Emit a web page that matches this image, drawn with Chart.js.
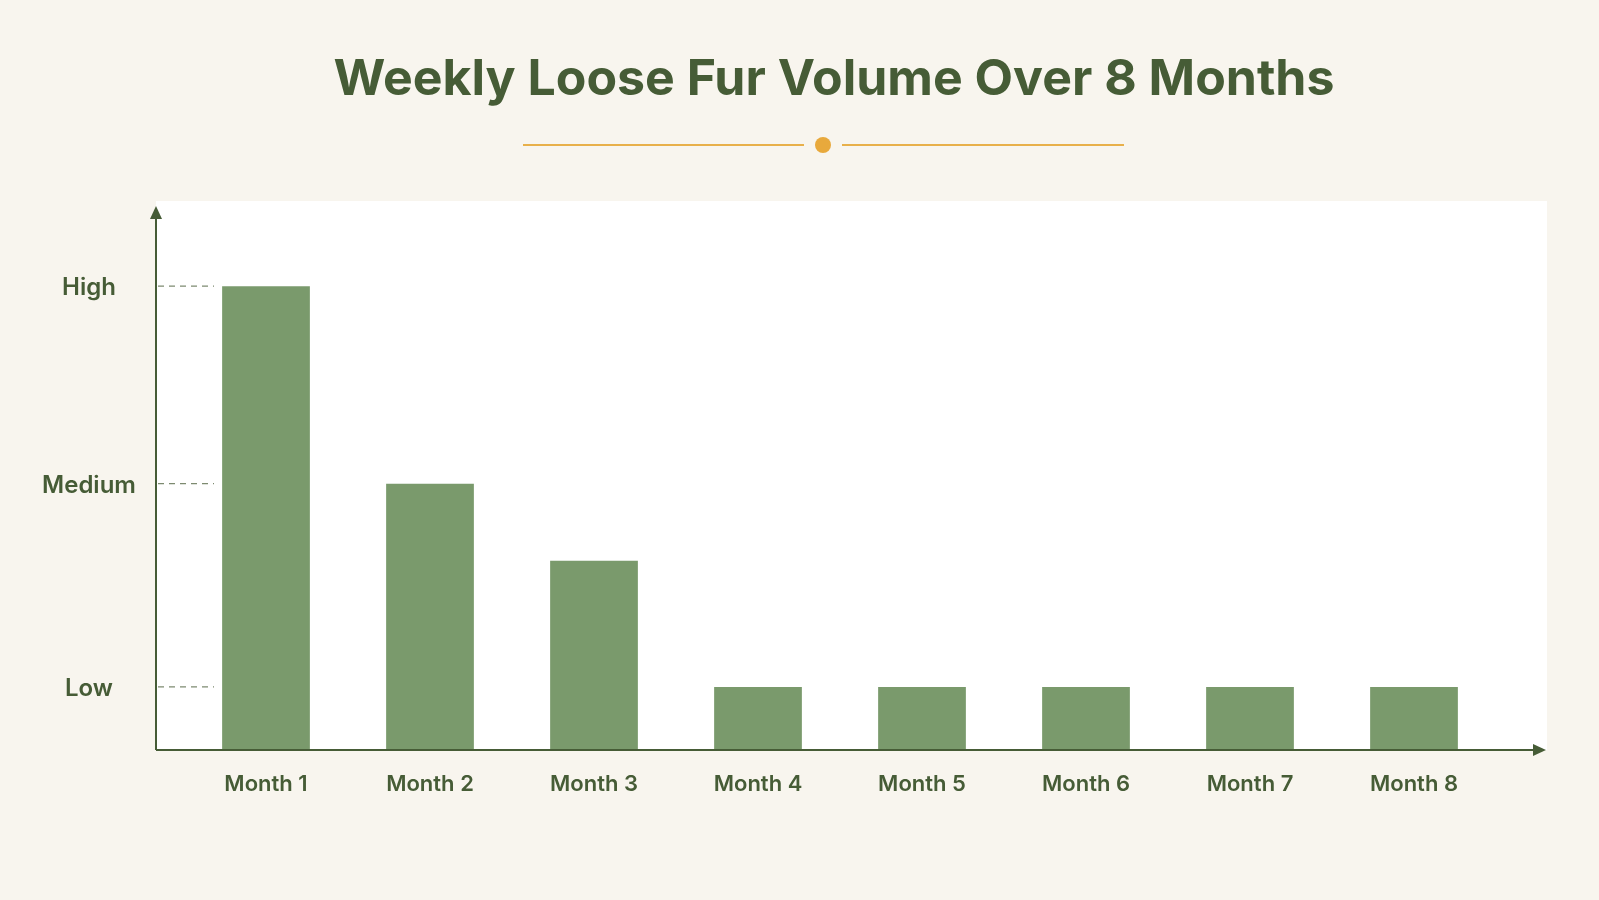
<!DOCTYPE html>
<html>
<head>
<meta charset="utf-8">
<script src="https://cdn.jsdelivr.net/npm/chart.js@4"></script>
<style>
  html, body { margin: 0; padding: 0; background: #f8f5ee; }
  #wrap { width: 1599px; height: 900px; position: relative; }
</style>
</head>
<body>
<div id="wrap"><canvas id="furChart" width="1599" height="900"></canvas></div>
<script>
// data
const months = ['Month 1', 'Month 2', 'Month 3', 'Month 4', 'Month 5', 'Month 6', 'Month 7', 'Month 8'];
const furVolume = [7.35, 4.22, 3.0, 1, 1, 1, 1, 1];
const levelValues = [1, 4.22, 7.35];
const levelLabels = ['Low', 'Medium', 'High'];

const GREEN_DARK = '#465c36';
const BAR_GREEN = '#7a9a6c';
const FONT = 'Inter, Lato, "Noto Sans", sans-serif';

// draws the frame, arrows, labels and title around the chart area
const decor = {
  id: 'decor',
  beforeDatasetsDraw(chart) {
    const { ctx, chartArea: a, scales } = chart;
    const y = scales.y;
    ctx.save();
    ctx.fillStyle = '#ffffff';
    ctx.fillRect(156, a.top, 1547 - 156, a.bottom - a.top);

    // dashed level lines + labels
    ctx.strokeStyle = '#7d8a70';
    ctx.lineWidth = 1.3;
    ctx.setLineDash([6, 5]);
    ctx.font = '600 24px ' + FONT;
    ctx.fillStyle = GREEN_DARK;
    ctx.textAlign = 'center';
    ctx.textBaseline = 'middle';
    levelValues.forEach((v, i) => {
      const py = y.getPixelForValue(v);
      ctx.beginPath();
      ctx.moveTo(158, py);
      ctx.lineTo(214, py);
      ctx.stroke();
      ctx.fillText(levelLabels[i], 89, py + 2);
    });
    ctx.restore();
  },
  afterDatasetsDraw(chart) {
    const { ctx, chartArea: a, scales } = chart;
    ctx.save();
    ctx.strokeStyle = GREEN_DARK;
    ctx.fillStyle = GREEN_DARK;
    ctx.lineWidth = 2;
    // y axis
    ctx.beginPath();
    ctx.moveTo(156, a.bottom);
    ctx.lineTo(156, 213);
    ctx.stroke();
    ctx.beginPath();
    ctx.moveTo(156, 206); ctx.lineTo(150, 219); ctx.lineTo(162, 219); ctx.closePath(); ctx.fill();
    // x axis
    ctx.beginPath();
    ctx.moveTo(156, a.bottom);
    ctx.lineTo(1538, a.bottom);
    ctx.stroke();
    ctx.beginPath();
    ctx.moveTo(1546, a.bottom); ctx.lineTo(1533, a.bottom - 6); ctx.lineTo(1533, a.bottom + 6); ctx.closePath(); ctx.fill();

    // month labels
    ctx.font = '600 22px ' + FONT;
    ctx.textAlign = 'center';
    ctx.textBaseline = 'middle';
    months.forEach((m, i) => {
      ctx.fillText(m, scales.x.getPixelForValue(i), a.bottom + 34);
    });

    // title
    ctx.font = '700 50px ' + FONT;
    ctx.fillText('Weekly Loose Fur Volume Over 8 Months', 834, 80);
    // ornament
    ctx.strokeStyle = '#e8b04a';
    ctx.lineWidth = 2;
    ctx.beginPath();
    ctx.moveTo(523, 145); ctx.lineTo(804, 145);
    ctx.moveTo(842, 145); ctx.lineTo(1124, 145);
    ctx.stroke();
    ctx.fillStyle = '#e8a93c';
    ctx.beginPath();
    ctx.arc(823, 145, 8, 0, Math.PI * 2);
    ctx.fill();
    ctx.restore();
  }
};

const config = {
  type: 'bar',
  data: {
    labels: months,
    datasets: [{
      data: furVolume,
      backgroundColor: BAR_GREEN,
      borderWidth: 0,
      categoryPercentage: 1,
      barPercentage: 0.535
    }]
  },
  options: {
    responsive: false,
    animation: false,
    layout: { padding: { left: 184, right: 103, top: 201, bottom: 150 } },
    plugins: { legend: { display: false }, tooltip: { enabled: false } },
    scales: {
      x: { display: false },
      y: { display: false, min: 0, max: 8.7 }
    }
  },
  plugins: [decor]
};

const furChart = new Chart(document.getElementById('furChart'), config);
</script>
</body>
</html>
